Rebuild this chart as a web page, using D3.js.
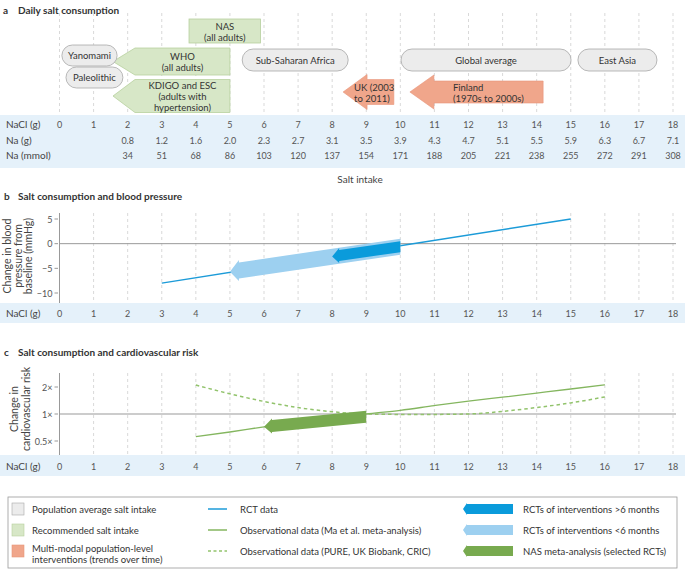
<!DOCTYPE html>
<html><head><meta charset="utf-8">
<script src="https://cdn.jsdelivr.net/npm/d3@7"></script>
<style>
body{margin:0;background:#fff;}
svg{display:block;font-family:Lato,"Noto Sans",sans-serif;}
</style></head>
<body><svg id="c" width="685" height="569"></svg>
<script>
// ---------- data ----------
const naclTicks = d3.range(0, 19);
const naGrams = [null,null,0.8,1.2,1.6,2.0,2.3,2.7,3.1,3.5,3.9,4.3,4.7,5.1,5.5,5.9,6.3,6.7,7.1];
const naMmol  = [null,null,34,51,68,86,103,120,137,154,171,188,205,221,238,255,272,291,308];

const popPills = [
  {label:"Yanomami", x0:0.07, x1:1.69, row:"y1"},
  {label:"Paleolithic", x0:0.19, x1:1.86, row:"y2"},
  {label:"Sub-Saharan Africa", x0:5.36, x1:8.47, row:"mid"},
  {label:"Global average", x0:10.02, x1:15.01, row:"mid"},
  {label:"East Asia", x0:15.21, x1:17.53, row:"mid"}
];
const recBoxes = [{label:["NAS","(all adults)"], x0:3.8, x1:5.9}];
const recArrows = [
  {label:["WHO","(all adults)"], tip:1.57, tail:5.0, row:"who"},
  {label:["KDIGO and ESC","(adults with","hypertension)"], tip:1.57, tail:5.0, row:"kdigo"}
];
const popArrows = [
  {label:["UK (2003","to 2011)"], tip:8.32, tail:9.81, row:"uk"},
  {label:["Finland","(1970s to 2000s)"], tip:10.28, tail:14.19, row:"fin"}
];

const bpTicks = [-10,-5,0,5];
const rctLine = [[3,-8],[15,5]];
const rctShort = {x0:5, y0:-5.7, x1:10, y1:-0.6};   // <6 months
const rctLong  = {x0:8, y0:-2.6, x1:10, y1:-0.6};   // >6 months

const riskTicks = [0.5,1,2];
const riskTickLabels = ["0.5×","1×","2×"];
const maLine = [[4,0.56],[5,0.63],[6,0.72],[7,0.81],[8,0.9],[9,1.0],[10,1.1],[11,1.24],[12,1.39],[13,1.54],[14,1.71],[15,1.9],[16,2.12]];
const pureLine = [[4,2.1],[5,1.68],[6,1.38],[7,1.18],[8,1.06],[9,1.0],[10,0.99],[11,0.99],[12,1.0],[13,1.07],[14,1.18],[15,1.33],[16,1.55]];
const nasArrow = {x0:6, y0:0.72, x1:9, y1:0.93};

const legendCol1 = ["Population average salt intake","Recommended salt intake",["Multi-modal population-level","interventions (trends over time)"]];
const legendCol2 = ["RCT data","Observational data (Ma et al. meta-analysis)","Observational data (PURE, UK Biobank, CRIC)"];
const legendCol3 = ["RCTs of interventions >6 months","RCTs of interventions <6 months","NAS meta-analysis (selected RCTs)"];

// ---------- styles ----------
const C = {
  text:"#333", num:"#555", grid:"#cfcfcf", axis:"#999", band:"#e5f1fa",
  pillFill:"#ececec", pillStroke:"#a8a8a8",
  recFill:"#d7e7c7", recStroke:"#b7d09e",
  popFill:"#f0a68b", popStroke:"#e7967a",
  rct:"#1c9bd8", rctLong:"#0a9bdb", rctShort:"#9dd0f0",
  ma:"#84b65f", pure:"#92c36c", nas:"#78aa4f"
};

const svg = d3.select("#c");
const x = d3.scaleLinear().domain([0,18]).range([59.5,673]);

function txt(g, s, px, py, o={}) {
  return g.append("text").attr("x",px).attr("y",py).text(s)
    .attr("font-size", o.size||9.5).attr("fill", o.fill||C.text)
    .attr("font-weight", o.weight||"normal")
    .attr("text-anchor", o.anchor||"start").attr("dominant-baseline","central");
}

// ---------- Panel a ----------
const A = {gridTop:13, bandTop:115, bandBot:168,
  rows:{y1:[45,66], y2:[67,88], mid:[49,71]},
  who:{c:61.5, h:13.5}, kdigo:{c:96, h:16.5}, uk:{c:92, hb:12.5, hh:17.5}, fin:{c:92, hb:11, hh:17}};

txt(svg,"a",3,10,{weight:"bold",size:10});
txt(svg,"Daily salt consumption",18,10,{weight:"bold",size:10});

svg.append("g").selectAll("line").data(naclTicks).join("line")
  .attr("x1",d=>x(d)).attr("x2",d=>x(d)).attr("y1",A.gridTop).attr("y2",A.bandTop)
  .attr("stroke",C.grid).attr("stroke-width",0.8).attr("stroke-dasharray","3,3");

// recommended boxes
recBoxes.forEach(b=>{
  svg.append("rect").attr("x",x(b.x0)).attr("y",19).attr("width",x(b.x1)-x(b.x0)).attr("height",24)
    .attr("fill",C.recFill).attr("stroke",C.recStroke).attr("stroke-width",0.8);
  b.label.forEach((l,i)=>txt(svg,l,(x(b.x0)+x(b.x1))/2,26+i*11,{anchor:"middle"}));
});
// recommended arrows
function hArrow(tipX, tailX, cy, hb, hh, hl) {
  return [[tipX,cy],[tipX+hl,cy-hh],[tipX+hl,cy-hb],[tailX,cy-hb],[tailX,cy+hb],[tipX+hl,cy+hb],[tipX+hl,cy+hh]];
}
recArrows.forEach(a=>{
  const r = A[a.row];
  svg.append("polygon").attr("points",hArrow(x(a.tip),x(a.tail),r.c,r.h,r.h,22).join(" "))
    .attr("fill",C.recFill).attr("stroke",C.recStroke).attr("stroke-width",0.8);
  const cx = (x(a.tip)+22+x(a.tail))/2;
  const n = a.label.length;
  a.label.forEach((l,i)=>txt(svg,l,cx,r.c+(i-(n-1)/2)*11,{anchor:"middle"}));
});
// population pills
popPills.forEach(p=>{
  const [y0,y1] = A.rows[p.row];
  svg.append("rect").attr("x",x(p.x0)).attr("y",y0).attr("width",x(p.x1)-x(p.x0)).attr("height",y1-y0)
    .attr("rx",(y1-y0)/2).attr("fill",C.pillFill).attr("stroke",C.pillStroke).attr("stroke-width",0.8);
  txt(svg,p.label,(x(p.x0)+x(p.x1))/2,(y0+y1)/2,{anchor:"middle"});
});
// population intervention arrows
popArrows.forEach(a=>{
  const r = A[a.row];
  svg.append("polygon").attr("points",hArrow(x(a.tip),x(a.tail),r.c,r.hb,r.hh,24).join(" "))
    .attr("fill",C.popFill).attr("stroke",C.popStroke).attr("stroke-width",0.6);
  const lx = a.row==="uk" ? x(a.tip)+11 : x(a.tip)+43;
  a.label.forEach((l,i)=>txt(svg,l,lx,r.c-5+i*11,{}));
});

// table band
svg.append("rect").attr("x",0).attr("y",A.bandTop).attr("width",685).attr("height",A.bandBot-A.bandTop).attr("fill",C.band);
const rowsA = [["NaCl (g)",naclTicks,124],["Na (g)",naGrams,140],["Na (mmol)",naMmol,155]];
rowsA.forEach(([lab,vals,yy])=>{
  txt(svg,lab,6,yy,{size:10,fill:"#444"});
  vals.forEach((v,i)=>{ if(v!==null) txt(svg, lab==="Na (g)"? v.toFixed(1): String(v), x(i), yy, {anchor:"middle",size:9,fill:C.num}); });
});
txt(svg,"Salt intake",360,179,{anchor:"middle",size:10,fill:"#444"});

// ---------- Panel b ----------
const B = {top:213, axisBot:303, bandBot:323};
const yB = d3.scaleLinear().domain([-10,5]).range([293,219]);
txt(svg,"b",4,196,{weight:"bold",size:10});
txt(svg,"Salt consumption and blood pressure",18,196,{weight:"bold",size:10});

svg.append("g").selectAll("line").data(naclTicks.slice(1)).join("line")
  .attr("x1",d=>x(d)).attr("x2",d=>x(d)).attr("y1",B.top).attr("y2",B.axisBot)
  .attr("stroke",C.grid).attr("stroke-width",0.8).attr("stroke-dasharray","3,3");
svg.append("line").attr("x1",x(0)).attr("x2",676).attr("y1",yB(0)).attr("y2",yB(0)).attr("stroke",C.axis).attr("stroke-width",1);
svg.append("line").attr("x1",x(0)).attr("x2",x(0)).attr("y1",B.top).attr("y2",B.axisBot).attr("stroke",C.axis).attr("stroke-width",1);
bpTicks.forEach(t=>{
  svg.append("line").attr("x1",x(0)-5).attr("x2",x(0)-1.5).attr("y1",yB(t)).attr("y2",yB(t)).attr("stroke",C.axis);
  txt(svg,String(t).replace("-","−"),x(0)-7,yB(t),{anchor:"end",size:9,fill:C.num});
});
[["Change in blood",7],["pressure from",17.5],["baseline (mmHg)",28]].forEach(([s,cx])=>{
  svg.append("text").attr("transform",`translate(${cx},256) rotate(-90)`).attr("text-anchor","middle")
    .attr("dominant-baseline","central").attr("font-size",10.5).attr("fill","#444").text(s);
});

function slantArrow(a, xs, ys, hb, hh, hl) {
  const tx=xs(a.x0), ty=ys(a.y0), ex=xs(a.x1), ey=ys(a.y1);
  const k=(ey-ty)/(ex-tx), bx=tx+hl, by=ty+k*hl;
  return [[tx,ty],[bx,by-hh],[bx,by-hb],[ex,ey-hb],[ex,ey+hb],[bx,by+hb],[bx,by+hh]];
}
const rctGen = d3.line().x(d=>x(d[0])).y(d=>yB(d[1]));
svg.append("path").attr("d",rctGen(rctLine)).attr("fill","none").attr("stroke",C.rct).attr("stroke-width",1.5);
svg.append("polygon").attr("points",slantArrow(rctShort,x,yB,8,10.5,9).join(" ")).attr("fill",C.rctShort);
svg.append("polygon").attr("points",slantArrow(rctLong,x,yB,5.5,7.5,7).join(" ")).attr("fill",C.rctLong);

svg.append("rect").attr("x",0).attr("y",B.axisBot).attr("width",685).attr("height",B.bandBot-B.axisBot).attr("fill",C.band);
txt(svg,"NaCl (g)",6,313,{size:10,fill:"#444"});
naclTicks.forEach(v=>txt(svg,String(v),x(v),313,{anchor:"middle",size:9,fill:C.num}));

// ---------- Panel c ----------
const Cc = {top:373, axisBot:455, bandBot:476};
const yC = d3.scaleLog().domain([0.5,2]).range([441,387]);
txt(svg,"c",4,352,{weight:"bold",size:10});
txt(svg,"Salt consumption and cardiovascular risk",18,352,{weight:"bold",size:10});

svg.append("g").selectAll("line").data(naclTicks.slice(1)).join("line")
  .attr("x1",d=>x(d)).attr("x2",d=>x(d)).attr("y1",Cc.top).attr("y2",Cc.axisBot)
  .attr("stroke",C.grid).attr("stroke-width",0.8).attr("stroke-dasharray","3,3");
svg.append("line").attr("x1",x(0)).attr("x2",676).attr("y1",yC(1)).attr("y2",yC(1)).attr("stroke",C.axis).attr("stroke-width",1);
svg.append("line").attr("x1",x(0)).attr("x2",x(0)).attr("y1",Cc.top).attr("y2",Cc.axisBot).attr("stroke",C.axis).attr("stroke-width",1);
riskTicks.forEach((t,i)=>{
  svg.append("line").attr("x1",x(0)-5).attr("x2",x(0)-1.5).attr("y1",yC(t)).attr("y2",yC(t)).attr("stroke",C.axis);
  txt(svg,riskTickLabels[i],x(0)-7,yC(t),{anchor:"end",size:9,fill:C.num});
});
[["Change in",14],["cardiovascular risk",25.5]].forEach(([s,cx])=>{
  svg.append("text").attr("transform",`translate(${cx},409) rotate(-90)`).attr("text-anchor","middle")
    .attr("dominant-baseline","central").attr("font-size",10.5).attr("fill","#444").text(s);
});
const cGen = d3.line().x(d=>x(d[0])).y(d=>yC(d[1])).curve(d3.curveMonotoneX);
svg.append("path").attr("d",cGen(pureLine)).attr("fill","none").attr("stroke",C.pure).attr("stroke-width",1.5).attr("stroke-dasharray","3.5,3");
svg.append("path").attr("d",cGen(maLine)).attr("fill","none").attr("stroke",C.ma).attr("stroke-width",1.3);
svg.append("polygon").attr("points",slantArrow(nasArrow,x,yC,6,7.5,8).join(" ")).attr("fill",C.nas);

svg.append("rect").attr("x",0).attr("y",Cc.axisBot).attr("width",685).attr("height",Cc.bandBot-Cc.axisBot).attr("fill",C.band);
txt(svg,"NaCl (g)",6,466,{size:10,fill:"#444"});
naclTicks.forEach(v=>txt(svg,String(v),x(v),466,{anchor:"middle",size:9,fill:C.num}));

// ---------- Legend ----------
const L = {x:8, y:497, w:669, h:71, rows:[509,530,551]};
svg.append("rect").attr("x",L.x).attr("y",L.y).attr("width",L.w).attr("height",L.h).attr("fill","none").attr("stroke","#9a9a9a").attr("stroke-width",0.8);
const sqFill=[C.pillFill,C.recFill,C.popFill], sqStroke=[C.pillStroke,C.recStroke,C.popStroke];
legendCol1.forEach((s,i)=>{
  const cy=L.rows[i];
  svg.append("rect").attr("x",12).attr("y",cy-6).attr("width",12).attr("height",12).attr("fill",sqFill[i]).attr("stroke",sqStroke[i]).attr("stroke-width",0.6);
  if(Array.isArray(s)) s.forEach((l,j)=>txt(svg,l,32,cy-3+j*11,{}));
  else txt(svg,s,32,cy,{});
});
const lnStyle=[[C.rct,null],[C.ma,null],[C.pure,"3,2.5"]];
legendCol2.forEach((s,i)=>{
  const cy=L.rows[i];
  svg.append("line").attr("x1",208).attr("x2",227).attr("y1",cy).attr("y2",cy)
    .attr("stroke",lnStyle[i][0]).attr("stroke-width",1.5).attr("stroke-dasharray",lnStyle[i][1]);
  txt(svg,s,240,cy,{});
});
const arFill=[C.rctLong,C.rctShort,C.nas];
legendCol3.forEach((s,i)=>{
  const cy=L.rows[i];
  svg.append("polygon").attr("points",hArrow(463,513,cy,5,6,4).join(" ")).attr("fill",arFill[i]);
  txt(svg,s,523,cy,{});
});
</script></body></html>
